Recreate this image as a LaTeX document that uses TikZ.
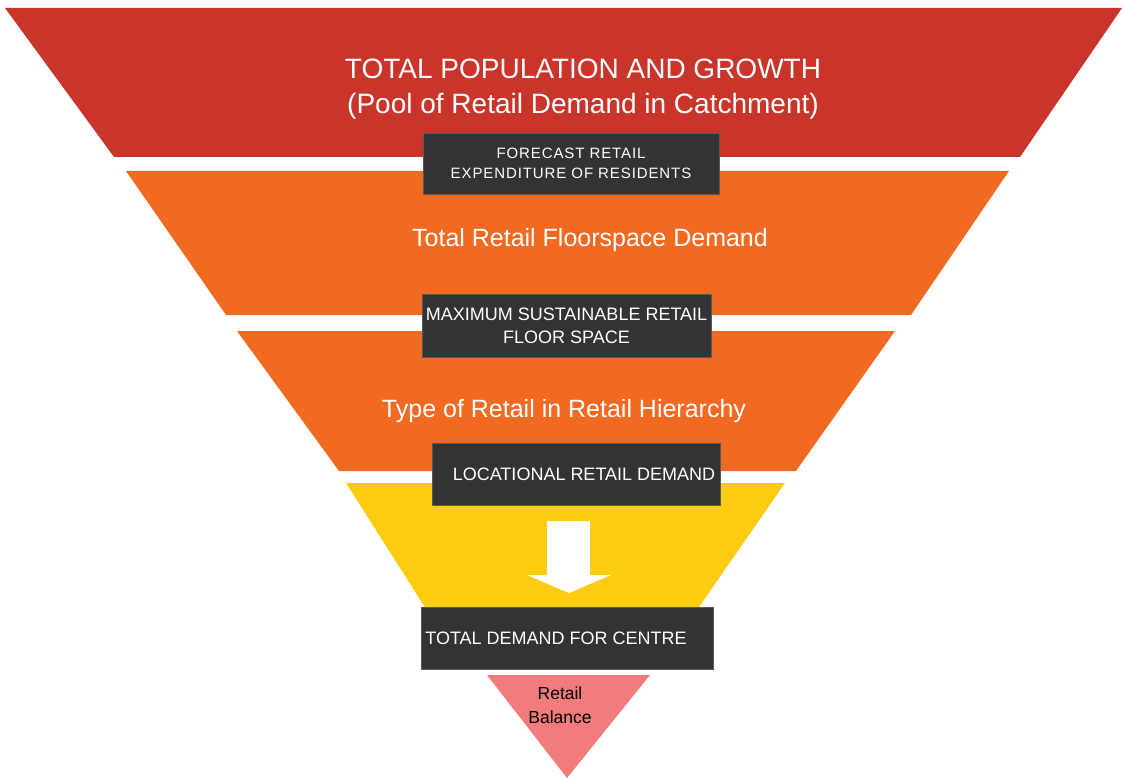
\documentclass[tikz,border=0pt]{standalone}
\usepackage{fontspec}
\setmainfont{Liberation Sans}
\definecolor{catchred}{HTML}{C9352A}
\definecolor{floororange}{HTML}{F26922}
\definecolor{centreyellow}{HTML}{FDCC11}
\definecolor{balancepink}{HTML}{F27B7B}
\definecolor{boxgrey}{HTML}{333333}

\begin{document}
\begin{tikzpicture}[x=1pt,y=-1pt,
  tier/.style={draw=none},
  stepbox/.style={fill=boxgrey,draw=gray!70!black,very thin,text=white,
    minimum width=290,minimum height=62,inner sep=4,
    font=\fontsize{15}{20}\selectfont\addfontfeatures{LetterSpace=6}},
  tiertext/.style={text=white,font=\fontsize{25}{30}\selectfont}]
\useasboundingbox (0,0) rectangle (1124,778);

% funnel tiers, top to bottom
\draw[tier,fill=catchred] (5,8) -- (1122,8) -- (1020,157) -- (114,157) -- cycle;
\draw[tier,fill=floororange] (126,171) -- (1009,171) -- (911,315) -- (226,315) -- cycle;
\draw[tier,fill=floororange] (237,331) -- (895,331) -- (796,471) -- (339,471) -- cycle;
\draw[tier,fill=centreyellow] (346,483) -- (785,483) -- (690,620) -- (433,620) -- cycle;
\draw[tier,fill=balancepink] (487,675) -- (650,675) -- (567,778) -- cycle;

% block arrow in the yellow tier
\draw[tier,fill=white] (547,521) -- (590,521) -- (590,575) -- (611,575) -- (569,593)
  -- (527,575) -- (547,575) -- cycle;

% tier labels
\node[tiertext,font=\fontsize{28}{35}\selectfont,align=center] (pool) at (583,89)
  {TOTAL POPULATION AND GROWTH\\(Pool of Retail Demand in Catchment)};
\node[tiertext] (floor) at (590,240) {Total Retail Floorspace Demand};
\node[tiertext] (hier) at (564,411) {Type of Retail in Retail Hierarchy};
\node[align=center,font=\fontsize{17.5}{24}\selectfont] (balance) at (560,705) {Retail\\Balance};

% dark step boxes
\node[stepbox,minimum width=296,minimum height=61,align=center] (forecast) at (571,163.5)
  {FORECAST RETAIL\\EXPENDITURE OF RESIDENTS};
\node[stepbox,minimum width=289,minimum height=63,align=center,inner xsep=0,
  font=\fontsize{18}{23}\selectfont] (maxspace) at (566.5,325.5)
  {MAXIMUM SUSTAINABLE RETAIL\\FLOOR SPACE};
\node[stepbox,minimum width=288,font=\fontsize{18}{23}\selectfont] (locational) at (576,474)
  {\hspace*{16pt}LOCATIONAL RETAIL DEMAND};
\node[stepbox,font=\fontsize{18}{23}\selectfont] (centre) at (567,638)
  {TOTAL DEMAND FOR CENTRE\hspace*{22pt}};

\end{tikzpicture}
\end{document}
